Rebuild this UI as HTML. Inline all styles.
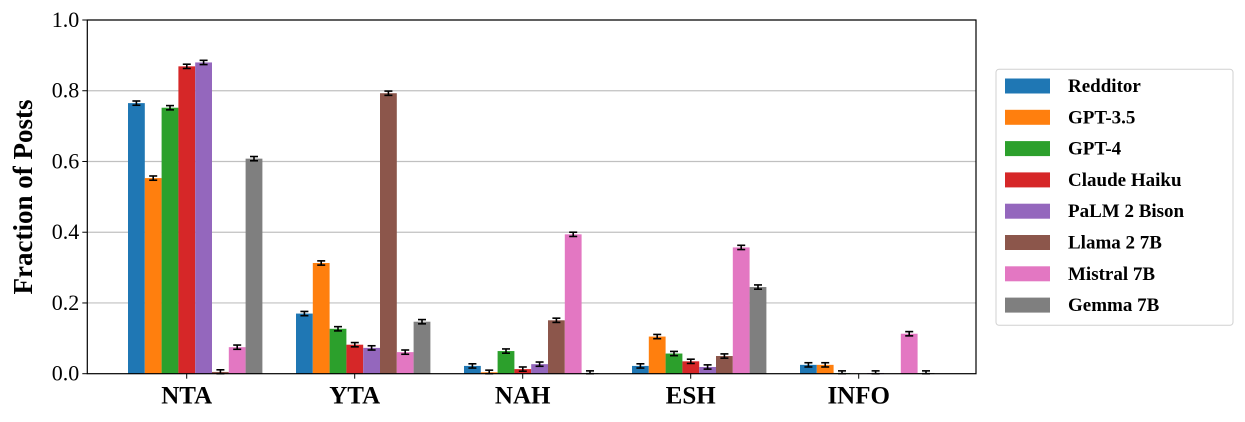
<!DOCTYPE html>
<html><head><meta charset="utf-8"><style>
body{margin:0;background:#fff;width:1245px;height:422px;overflow:hidden}
svg{display:block}
text{font-family:"Liberation Serif",serif;fill:#000}
</style></head><body>
<svg id="s" width="1245" height="422" xmlns="http://www.w3.org/2000/svg"></svg>
<script>
const s=document.getElementById('s');
const L=87.3,R=976,T=20,B=373.7,H=B-T;
const cols=['#1f77b4','#ff7f0e','#2ca02c','#d62728','#9467bd','#8c564b','#e377c2','#7f7f7f'];
const names=['Redditor','GPT-3.5','GPT-4','Claude Haiku','PaLM 2 Bison','Llama 2 7B','Mistral 7B','Gemma 7B'];
const cats=['NTA','YTA','NAH','ESH','INFO'];
const v=[[0.765,0.553,0.752,0.869,0.880,0.005,0.075,0.608],
[0.170,0.313,0.127,0.082,0.073,0.793,0.061,0.147],
[0.022,0.004,0.064,0.013,0.027,0.151,0.394,0.002],
[0.022,0.105,0.057,0.035,0.019,0.050,0.357,0.245],
[0.025,0.025,0.002,0,0.002,0,0.113,0.002]];
let h='';
const y=t=>B-t*H;
for(let i=1;i<=5;i++){const t=i*0.2;h+=`<line x1="${L}" x2="${R}" y1="${y(t)}" y2="${y(t)}" stroke="#c0c0c0" stroke-width="1.2"/>`;}
for(let i=0;i<=5;i++){const t=i*0.2;h+=`<line x1="${L-5}" x2="${L}" y1="${y(t)}" y2="${y(t)}" stroke="#000"/><text x="${L-8}" y="${y(t)+7}" font-size="22" text-anchor="end">${t.toFixed(1)}</text>`;}
const bw=16.8;
cats.forEach((c,g)=>{const cx=186.7+168*g;const x0=128+168*g;
v[g].forEach((val,k)=>{const x=x0+k*bw;h+=`<rect x="${x}" y="${y(val)}" width="${bw}" height="${val*H}" fill="${cols[k]}"/>`;
const e=0.006,xc=x+bw/2;if(val>0.001)h+=`<g stroke="#000" stroke-width="1.6"><line x1="${xc}" x2="${xc}" y1="${y(val+e)}" y2="${y(Math.max(val-e,0))}"/><line x1="${xc-4}" x2="${xc+4}" y1="${y(val+e)}" y2="${y(val+e)}"/><line x1="${xc-4}" x2="${xc+4}" y1="${y(Math.max(val-e,0))}" y2="${y(Math.max(val-e,0))}"/></g>`;});
h+=`<line x1="${cx}" x2="${cx}" y1="${B}" y2="${B+5}" stroke="#000"/><text x="${cx}" y="${B+30}" font-size="25" font-weight="bold" text-anchor="middle">${c}</text>`;});
h+=`<rect x="${L}" y="${T}" width="${R-L}" height="${H}" fill="none" stroke="#000" stroke-width="1.2"/>`;
h+=`<text transform="translate(32,197) rotate(-90)" font-size="27" font-weight="bold" text-anchor="middle">Fraction of Posts</text>`;
h+=`<rect x="996" y="69.3" width="237" height="256" rx="3" fill="#fff" stroke="#d0d0d0"/>`;
names.forEach((n,k)=>{const cy=86+31.3*k;h+=`<rect x="1005" y="${cy-7.5}" width="45" height="15" fill="${cols[k]}"/><text x="1068" y="${cy+6}" font-size="19" font-weight="bold">${n}</text>`;});
s.innerHTML=h;
</script>
</body></html>
